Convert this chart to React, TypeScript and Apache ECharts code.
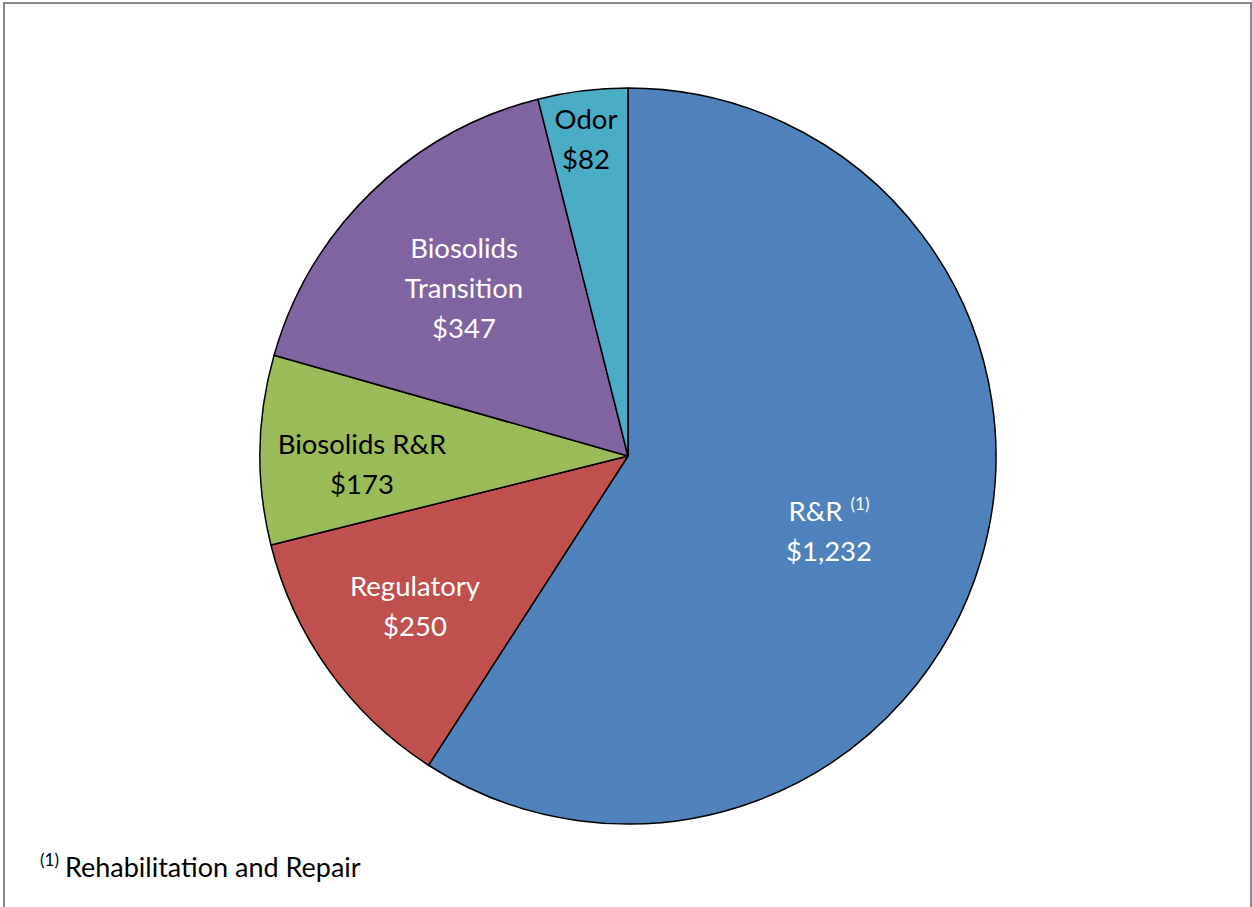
import React, { useEffect, useRef } from "react";
import * as echarts from "echarts";

const categories = ["R&R", "Regulatory", "Biosolids R&R", "Biosolids Transition", "Odor"];
const values = [1232, 250, 173, 347, 82];
const colors = ["#4F81BD", "#C0504D", "#9BBB59", "#8064A2", "#4BACC6"];
const labelColors = ["#ffffff", "#ffffff", "#000000", "#ffffff", "#000000"];
const labelTexts = [
  "{a|R&R}{s|(1)}\n{a|$1,232}",
  "{a|Regulatory}\n{a|$250}",
  "{a|Biosolids R&R}\n{a|$173}",
  "{a|Biosolids}\n{a|Transition}\n{a|$347}",
  "{a|Odor}\n{a|$82}",
];
const footnoteNote = "(1)";
const footnoteText = "Rehabilitation and Repair";

const CX = 628;
const CY = 456;
const R = 368;
const labelOffsets = [
  [201, 74],
  [-213, 149],
  [-266, 7],
  [-164, -169],
  [-42, -318],
];

const FONT = "Lato, 'Open Sans', sans-serif";

export default function App() {
  const ref = useRef<HTMLDivElement>(null);
  useEffect(() => {
    document.body.style.margin = "0";
    const chart = echarts.init(ref.current!, null, { renderer: "svg" });
    const data = categories.map((name, i) => ({
      name,
      value: values[i],
      itemStyle: { color: colors[i] },
      label: {
        formatter: labelTexts[i],
        rich: {
          a: { color: labelColors[i], fontSize: 27.5, lineHeight: 40, fontFamily: FONT },
          s: { color: labelColors[i], fontSize: 17, lineHeight: 40, fontFamily: FONT, padding: [0, 0, 14, 8] },
        },
      },
    }));
    chart.setOption({
      animation: false,
      backgroundColor: "#ffffff",
      graphic: [
        {
          type: "rect",
          shape: { x: 4, y: 3, width: 1247, height: 915 },
          style: { fill: "none", stroke: "#888888", lineWidth: 2 },
          silent: true,
        },
        {
          type: "text",
          x: 40,
          y: 866,
          style: {
            text: `{s|${footnoteNote}}{a|${footnoteText}}`,
            verticalAlign: "middle",
            rich: {
              a: { fontSize: 27, fontFamily: FONT, fill: "#000", lineHeight: 30, padding: [0, 0, 0, 6] },
              s: { fontSize: 17, fontFamily: FONT, fill: "#000", lineHeight: 30, padding: [0, 0, 14, 0] },
            },
          },
        },
      ],
      series: [
        {
          type: "pie",
          center: [CX, CY],
          radius: [0, R],
          startAngle: 90,
          clockwise: true,
          avoidLabelOverlap: false,
          itemStyle: { borderColor: "#000000", borderWidth: 1.5 },
          label: { show: true, position: "inside", align: "center" },
          labelLine: { show: false },
          labelLayout: (params: any) => {
            const o = labelOffsets[params.dataIndex];
            return { x: CX + o[0], y: CY + o[1], align: "center", verticalAlign: "middle" };
          },
          emphasis: { disabled: true },
          data,
        },
      ],
    });
    return () => chart.dispose();
  }, []);
  return <div ref={ref} style={{ width: 1252, height: 907 }} />;
}
